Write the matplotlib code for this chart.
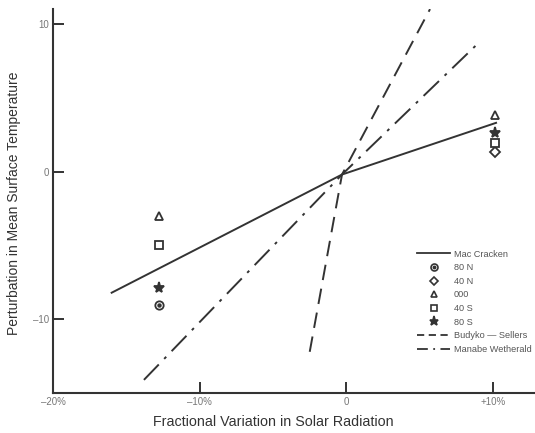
import matplotlib
matplotlib.use("Agg")
from matplotlib import pyplot as plt
from matplotlib.lines import Line2D
from matplotlib.legend_handler import HandlerTuple

# model curves (x in %, y in deg)
mac_x = [-16.0, -0.3, 10.2]
mac_y = [-8.2, -0.2, 3.3]
budyko_x = [-2.5, -0.3, 5.7]
budyko_y = [-12.2, -0.2, 11.0]
manabe_x = [-13.8, -0.3, 9.1]
manabe_y = [-14.1, -0.2, 8.8]

# latitude points
pt_x_left = -12.8
pt_x_right = 10.1
lat_names = ["80 N", "40 N", "000", "40 S", "80 S"]
lat_left = [-9.05, None, -3.0, -5.0, -7.9]
lat_right = [None, 1.35, 3.85, 1.95, 2.6]
lat_markers = ["o", "D", "^", "s", "*"]

xticks = [-20, -10, 0, 10]
xticklabels = ["\u201320%", "\u201310%", "0", "+10%"]
yticks = [-10, 0, 10]
yticklabels = ["\u201310", "0", "10"]

ink = "#333333"
plt.rcParams["font.family"] = ["Liberation Sans", "DejaVu Sans"]

fig = plt.figure(figsize=(5.35, 4.33), dpi=100)
ax = fig.add_axes([0.099, 0.092, 0.905, 0.887])

ax.plot(mac_x, mac_y, color=ink, lw=1.4)
ax.plot(budyko_x, budyko_y, color=ink, lw=1.4, dashes=(8, 4.5))
ax.plot(manabe_x, manabe_y, color=ink, lw=1.4, dashes=(11, 4, 1.5, 4))

msize = {"o": 6, "D": 5, "^": 6, "s": 5.5, "*": 8}
for name, yl, yr, m in zip(lat_names, lat_left, lat_right, lat_markers):
    for x, y in ((pt_x_left, yl), (pt_x_right, yr)):
        if y is None:
            continue
        filled = m == "*"
        ax.plot(x, y, marker=m, ms=msize[m], mew=1.3, color=ink,
                mfc=ink if filled else "white", ls="none")
        if m == "o":
            ax.plot(x, y, marker="o", ms=2.2, color=ink, ls="none")

ax.set_xlim(-20, 13)
ax.set_ylim(-15, 11)
ax.spines["top"].set_visible(False)
ax.spines["right"].set_visible(False)
for s in ("left", "bottom"):
    ax.spines[s].set_linewidth(1.5)
    ax.spines[s].set_color(ink)

ax.set_xticks(xticks)
ax.set_xticklabels(xticklabels)
ax.set_yticks(yticks)
ax.set_yticklabels(yticklabels)
ax.tick_params(direction="in", length=8, width=1.4, color=ink,
               labelsize=7, labelcolor="#777777", pad=3)

fig.text(273 / 535, 1 - 422 / 433, "Fractional Variation in Solar Radiation",
         fontsize=10.3, color=ink, ha="center", va="center")
fig.text(14 / 535, 1 - 203 / 433, "Perturbation in Mean Surface Temperature",
         rotation=90, fontsize=10, color=ink, ha="center", va="center")

lw_leg = 1.3
ms_leg = {"o": 5, "D": 4.5, "^": 5, "s": 4.5, "*": 6.5}
handles = [Line2D([], [], color=ink, lw=lw_leg)]
for m in lat_markers:
    filled = m == "*"
    h = Line2D([], [], marker=m, ms=ms_leg[m], mew=1.2, color=ink,
               mfc=ink if filled else "white", ls="none")
    if m == "o":
        h = (h, Line2D([], [], marker="o", ms=1.8, color=ink, ls="none"))
    handles.append(h)
handles.append(Line2D([], [], color=ink, lw=lw_leg, dashes=(4, 2.5)))
handles.append(Line2D([], [], color=ink, lw=lw_leg, dashes=(6, 3, 1, 3)))
labels = ["Mac Cracken"] + lat_names + ["Budyko \u2014 Sellers", "Manabe Wetherald"]

ax.legend(handles, labels, loc="upper left", bbox_to_anchor=(0.735, 0.395),
          frameon=False, fontsize=6.6, labelcolor="#555555",
          handlelength=3.6, handletextpad=0.4, labelspacing=0.5,
          handler_map={tuple: HandlerTuple(ndivide=1, pad=0)})

fig.savefig("out.png", dpi=100, facecolor="white")
